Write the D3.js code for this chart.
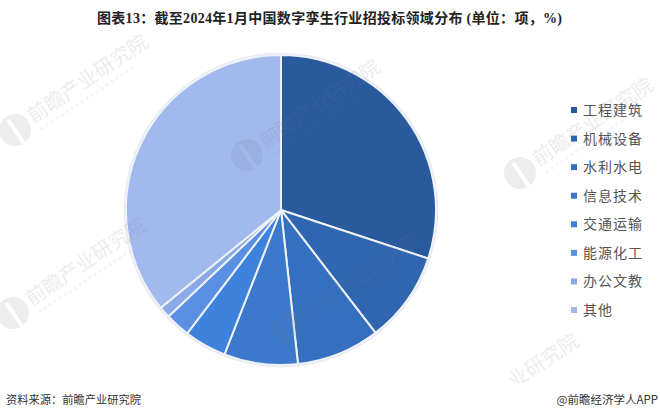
<!DOCTYPE html>
<html>
<head>
<meta charset="utf-8">
<script src="https://cdn.jsdelivr.net/npm/d3@7"></script>
<style>
  html, body { margin: 0; padding: 0; background: #fff; }
  text { font-family: "Noto Sans CJK SC", "Noto Sans", sans-serif; }
</style>
</head>
<body>
<div id="chart_container"></div>
<script>
// values (share of tenders, %)
var categories = ["工程建筑", "机械设备", "水利水电", "信息技术", "交通运输", "能源化工", "办公文教", "其他"];
var shares = [30.1, 9.5, 8.7, 7.7, 4.4, 2.6, 1.2, 35.9];
var colors = ["#2a5a9e", "#3066b0", "#3570c0", "#3b79cc", "#3d82dc", "#5a90e4", "#88a8e6", "#a1b9ed"];
var wmSpots = [[15, 130], [247, 155], [520, 173], [13, 313], [287, 328]];

var w = 660, h = 418;
var cx = 281, cy = 210, radius = 155;

var svg = d3.select("#chart_container")
  .append("svg")
  .attr("width", w)
  .attr("height", h)
  .style("display", "block");

// pie
var pie = d3.pie().sort(null).value(function(d) { return d; });
var arc = d3.arc().innerRadius(0).outerRadius(radius);

svg.append("circle")
  .attr("cx", cx)
  .attr("cy", cy)
  .attr("r", radius + 1.5)
  .attr("fill", "none")
  .attr("stroke", "#e6ebf3")
  .attr("stroke-width", 1.5);

svg.append("g")
  .attr("transform", "translate(" + cx + "," + cy + ")")
  .selectAll("path")
  .data(pie(shares))
  .enter().append("path")
  .attr("d", arc)
  .attr("fill", function(d, i) { return colors[i]; })
  .attr("stroke", "#eef1f6")
  .attr("stroke-width", 2);

// watermarks lie over the pie, very faint
var wmFill = "#70788c";
var wmOpacity = 0.13;

var logo = d3.path();
logo.arc(0, 0, 16, 0, 2 * Math.PI);
logo.closePath();
logo.rect(-2, -12, 4, 28);

var wm = svg.selectAll("g.wm")
  .data(wmSpots)
  .enter().append("g")
  .attr("class", "wm")
  .attr("transform", function(d) { return "translate(" + d[0] + "," + d[1] + ") rotate(-34)"; })
  .attr("opacity", wmOpacity);

wm.append("path")
  .attr("d", logo.toString())
  .attr("fill", wmFill)
  .attr("fill-rule", "evenodd");

wm.append("text")
  .attr("x", 19)
  .attr("y", 5)
  .attr("font-size", 20)
  .attr("fill", wmFill)
  .text("前瞻产业研究院");

wm.append("line")
  .attr("x1", 22)
  .attr("x2", 132)
  .attr("y1", 14)
  .attr("y2", 14)
  .attr("stroke", wmFill)
  .attr("stroke-width", 3)
  .attr("stroke-dasharray", "3 3")
  .attr("opacity", 0.5);

// last watermark is cut by the footer band, only its tail shows
svg.append("text")
  .attr("transform", "translate(514,389) rotate(-34)")
  .attr("font-size", 20)
  .attr("fill", wmFill)
  .attr("opacity", wmOpacity)
  .text("业研究院");

svg.append("rect")
  .attr("x", 0)
  .attr("y", 383)
  .attr("width", w)
  .attr("height", h - 383)
  .attr("fill", "#fff");

// legend
var legendY = d3.scalePoint().domain(categories).range([110, 310]);

var legend = svg.selectAll("g.legend")
  .data(categories)
  .enter().append("g")
  .attr("class", "legend")
  .attr("transform", function(d) { return "translate(571," + legendY(d) + ")"; });

legend.append("rect")
  .attr("x", 0)
  .attr("y", -3)
  .attr("width", 6)
  .attr("height", 6)
  .attr("fill", function(d, i) { return colors[i]; });

legend.append("text")
  .attr("x", 12)
  .attr("y", 5)
  .attr("font-size", 14)
  .attr("letter-spacing", 1)
  .attr("fill", "#555")
  .text(function(d) { return d; });

// title and footer
svg.append("text")
  .attr("x", 97)
  .attr("y", 23)
  .attr("font-size", 14)
  .attr("font-weight", "bold")
  .attr("fill", "#222")
  .attr("textLength", 465)
  .style("font-family", '"Liberation Serif", "Noto Sans CJK SC", serif')
  .text("图表13：截至2024年1月中国数字孪生行业招投标领域分布 (单位：项，%)");

svg.append("text")
  .attr("x", 6)
  .attr("y", 404)
  .attr("font-size", 11.25)
  .attr("fill", "#333")
  .text("资料来源：前瞻产业研究院");

svg.append("text")
  .attr("x", 658)
  .attr("y", 404)
  .attr("font-size", 11.5)
  .attr("text-anchor", "end")
  .attr("fill", "#333")
  .text("@前瞻经济学人APP");
</script>
</body>
</html>
